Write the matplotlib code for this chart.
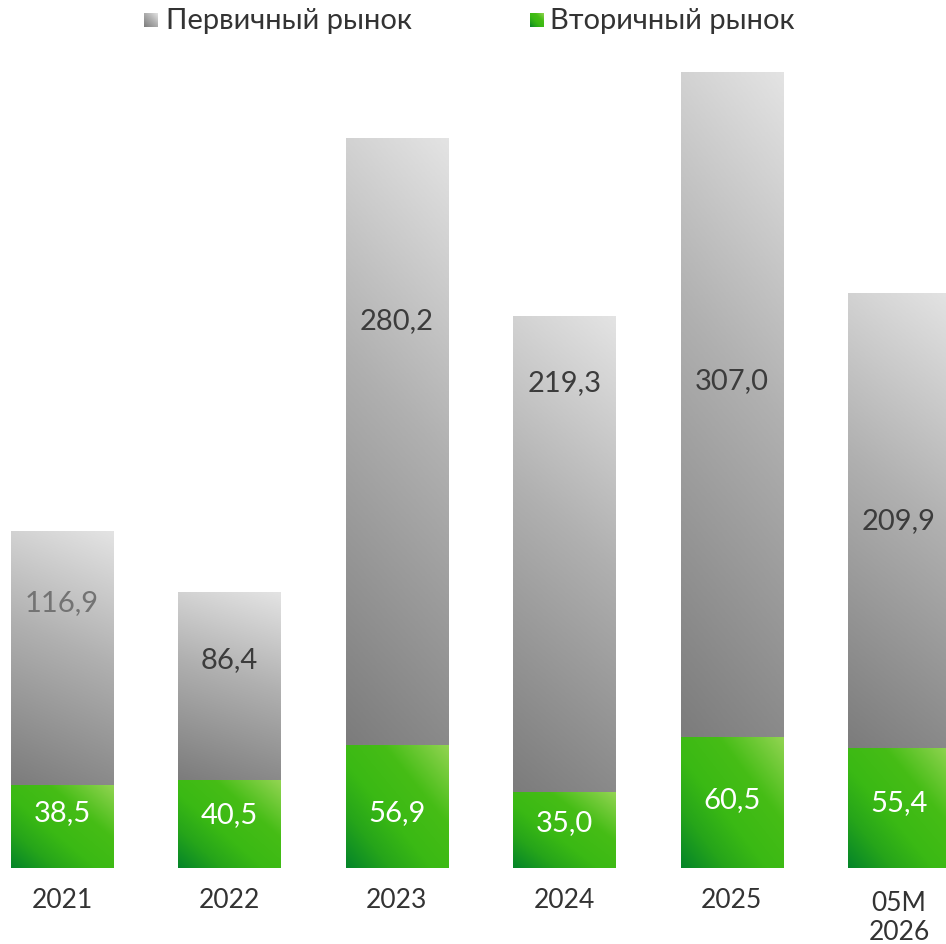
import numpy as np
import matplotlib.pyplot as plt
import matplotlib.transforms as mtransforms
from matplotlib.colors import LinearSegmentedColormap

plt.rcParams['font.family'] = ['Lato', 'DejaVu Sans']

# данные, млрд руб.
years = ['2021', '2022', '2023', '2024', '2025', '05M\n2026']
primary = [116.9, 86.4, 280.2, 219.3, 307.0, 209.9]
secondary = [38.5, 40.5, 56.9, 35.0, 60.5, 55.4]

# высота подписей внутри столбцов (в единицах оси)
prim_label_y = [122.9, 96.5, 253.0, 224.4, 225.3, 160.7]
sec_label_y = [25.9, 24.9, 25.9, 21.3, 31.9, 30.5]

gray_cmap = LinearSegmentedColormap.from_list(
    'gray_grad', [(0.0, '#7c7c7c'), (0.55, '#b0b0b0'), (1.0, '#e3e3e3')])
green_cmap = LinearSegmentedColormap.from_list(
    'green_grad', [(0.0, '#058529'), (0.22, '#26a51a'), (0.42, '#3ab914'),
                   (0.68, '#46bd16'), (1.0, '#92d452')])


def gradient(cmap, wu, wv, n=120, m=60):
    u = np.linspace(0, 1, m)[None, :]
    v = np.linspace(0, 1, n)[:, None]
    t = (wu * u + wv * v) / (wu + wv)
    return cmap(t)


def grad_rect(ax, x0, x1, y0, y1, cmap, wu, wv):
    ax.imshow(gradient(cmap, wu, wv), extent=(x0, x1, y0, y1), origin='lower',
              aspect='auto', interpolation='bilinear', zorder=2)


fig = plt.figure(figsize=(9.46, 9.45), dpi=100)
ax = fig.add_axes([0, 76 / 945, 1, 869 / 945])

width = 0.61
for i, (p, s) in enumerate(zip(primary, secondary)):
    x0, x1 = i - width / 2, i + width / 2
    grad_rect(ax, x0, x1, 0, s, green_cmap, 1, 1)
    grad_rect(ax, x0, x1, s, s + p, gray_cmap, 0.18, 1)
    col = '#737373' if i == 0 else '#3c3c3c'
    ax.text(i, prim_label_y[i], f'{p:.1f}'.replace('.', ','), ha='center', va='center',
            fontsize=21, color=col, zorder=3)
    ax.text(i, sec_label_y[i], f'{s:.1f}'.replace('.', ','), ha='center', va='center',
            fontsize=21, color='white', zorder=3)

ax.set_xlim(-62 / 167.4, -62 / 167.4 + 946 / 167.4)
ax.set_ylim(0, 869 / 2.166)
ax.set_xticks(range(len(years)))
ax.set_xticklabels(years, fontsize=19, color='#333333', linespacing=1.2, va='top')
ax.tick_params(axis='x', length=0, pad=14)
# двухстрочная подпись чуть ниже остальных
last = ax.get_xticklabels()[-1]
last.set_transform(last.get_transform() +
                   mtransforms.ScaledTranslation(0, -2 / 72, fig.dpi_scale_trans))
ax.set_yticks([])
for sp in ax.spines.values():
    sp.set_visible(False)
ax.patch.set_alpha(0)

# легенда сверху
lax = fig.add_axes([0, 0, 1, 1], zorder=5)
lax.axis('off')
lax.imshow(gradient(gray_cmap, 1, 1), extent=(144, 158, 28, 14), origin='lower',
           aspect='auto', interpolation='bilinear')
lax.imshow(gradient(green_cmap, 1, 1), extent=(530, 544, 28, 14), origin='lower',
           aspect='auto', interpolation='bilinear')
lax.text(166, 21, 'Первичный рынок', ha='left', va='center', fontsize=21, color='#333333')
lax.text(550, 21, 'Вторичный рынок', ha='left', va='center', fontsize=21, color='#333333')
lax.set_xlim(0, 946)
lax.set_ylim(945, 0)

fig.savefig('out.png', dpi=100)
